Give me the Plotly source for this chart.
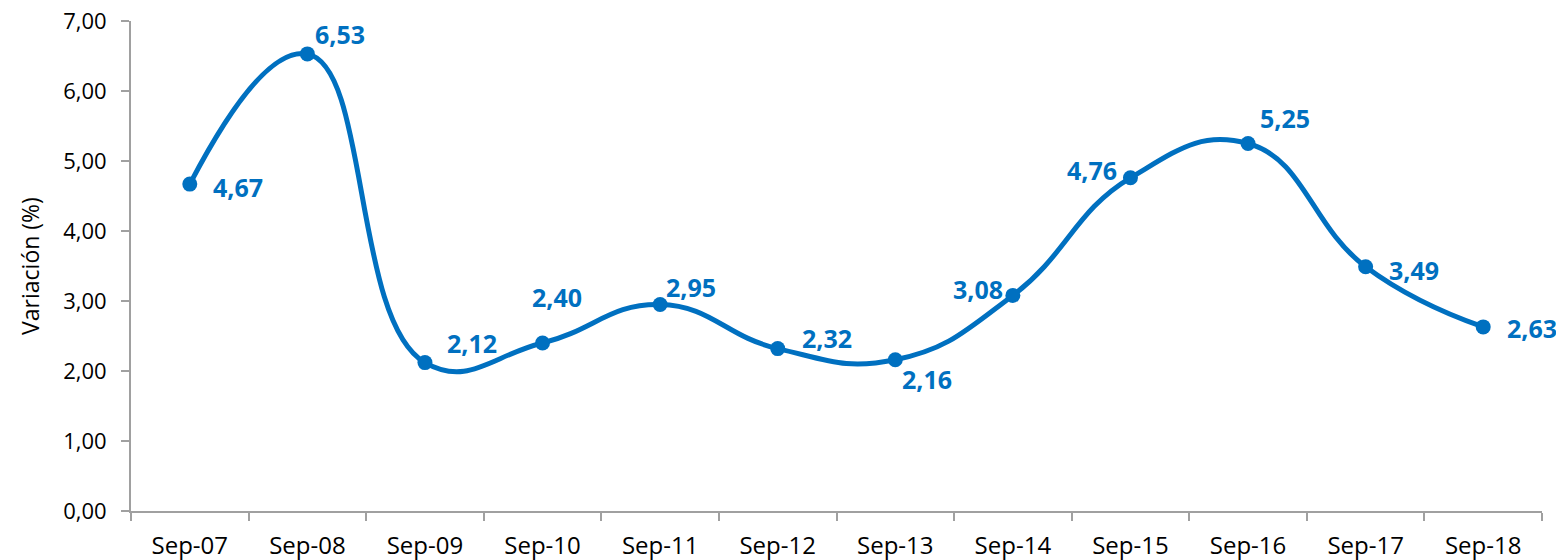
import plotly.graph_objects as go

# datos
periodos = ["Sep-07", "Sep-08", "Sep-09", "Sep-10", "Sep-11", "Sep-12",
            "Sep-13", "Sep-14", "Sep-15", "Sep-16", "Sep-17", "Sep-18"]
variacion = [4.67, 6.53, 2.12, 2.40, 2.95, 2.32, 2.16, 3.08, 4.76, 5.25, 3.49, 2.63]

# desplazamiento de las etiquetas (px)
dx = [48, 33, 47, 14, 31, 49, 32, -35, -38, 37, 48, 49]
dy = [-3, 20, 20, 46, 18, 11, -19, 6, 8, 26, -3, -1]

azul = "#0070C0"

fig = go.Figure()
fig.add_trace(go.Scatter(
    x=periodos, y=variacion, mode="lines+markers",
    line=dict(color=azul, width=5, shape="spline", smoothing=1.3),
    marker=dict(color=azul, size=15),
    showlegend=False))

for p, v, sx, sy in zip(periodos, variacion, dx, dy):
    fig.add_annotation(x=p, y=v, text="<b>" + f"{v:.2f}".replace(".", ",") + "</b>",
                       showarrow=False, xshift=sx, yshift=sy,
                       font=dict(color=azul, size=25, family="Open Sans"))

fig.update_layout(
    width=1556, height=560,
    margin=dict(l=131, r=14, t=21, b=49),
    plot_bgcolor="white", paper_bgcolor="white",
    font=dict(family="Open Sans", size=22, color="black"),
    separators=",.",
)
fig.update_xaxes(type="category", range=[-0.5, 11.5], showgrid=False,
                 showline=True, linecolor="#A0A0A0", linewidth=2,
                 ticks="outside", tickson="boundaries", ticklen=8,
                 tickcolor="#A0A0A0", tickwidth=2, tickfont=dict(size=24),
                 ticklabelstandoff=12, automargin=False)
fig.update_yaxes(range=[0, 7], dtick=1, tickformat=".2f",
                 showgrid=False, showline=True, linecolor="#A0A0A0", linewidth=2,
                 ticks="outside", ticklen=8, tickcolor="#A0A0A0", tickwidth=2,
                 tickfont=dict(size=22), ticklabelstandoff=10,
                 title=dict(text="Variación (%)", font=dict(size=23), standoff=17),
                 zeroline=False, automargin=False)

# sin margen del body para que la figura ocupe la ventana
fig.write_html("out.html", config={"displayModeBar": False},
               post_script="document.body.style.margin='0';")
